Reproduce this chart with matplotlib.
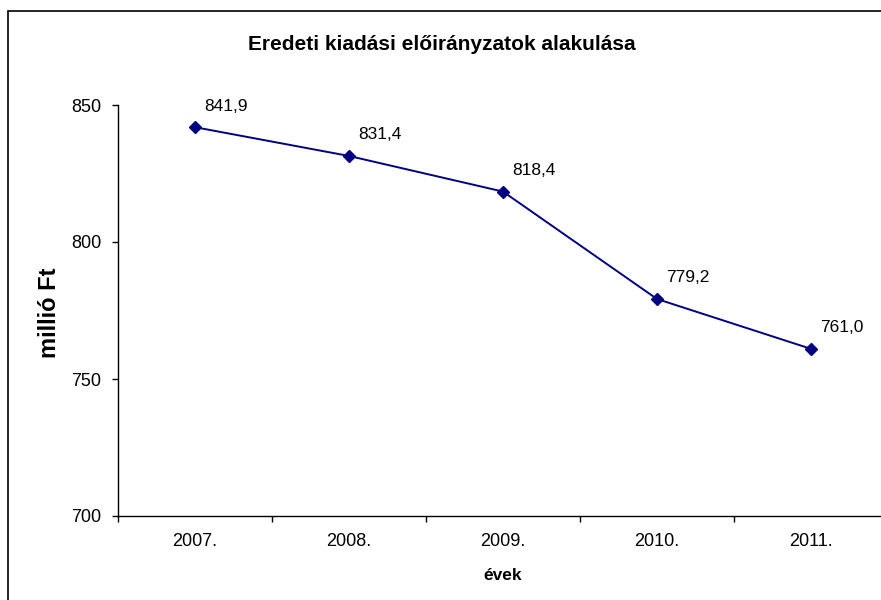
import matplotlib.pyplot as plt
from matplotlib.patches import Rectangle

# data
years = ['2007.', '2008.', '2009.', '2010.', '2011.']
values = [841.9, 831.4, 818.4, 779.2, 761.0]
labels = ['841,9', '831,4', '818,4', '779,2', '761,0']

plt.rcParams['font.family'] = ['Liberation Sans', 'DejaVu Sans']

W, H = 881, 600
fig = plt.figure(figsize=(W / 100, H / 100), dpi=100)

# chart border (cropped on the right and bottom in the original)
fig.patches.append(Rectangle((8 / W, -0.1), 1.2, 1.1 - 11 / H, transform=fig.transFigure,
                             fill=False, edgecolor='black', linewidth=1.2))

ax = fig.add_axes([118 / W, 84 / H, 770 / W, 411 / H])
x = list(range(len(years)))
ax.plot(x, values, color='#000080', linewidth=1.4, marker='D', markersize=6.5,
        markerfacecolor='#000080', markeredgecolor='#000080')
for xi, v, lab in zip(x, values, labels):
    ax.annotate(lab, (xi, v), xytext=(9, 21), textcoords='offset pixels',
                ha='left', va='center', fontsize=12.5)

ax.set_xlim(-0.5, len(years) - 0.5)
ax.set_ylim(700, 850)
ax.set_yticks([700, 750, 800, 850])
ax.set_yticklabels(['700', '750', '800', '850'], fontsize=13)

# category boundaries as major ticks, labels on minor ticks at centres
ax.set_xticks([i - 0.5 for i in range(len(years) + 1)])
ax.set_xticklabels([])
ax.set_xticks(x, minor=True)
ax.set_xticklabels(years, minor=True, fontsize=13)
ax.tick_params(axis='x', which='major', length=4, width=1)
ax.tick_params(axis='x', which='minor', length=0, pad=12)
ax.tick_params(axis='y', length=4, width=1, pad=8)

for side in ['top', 'right']:
    ax.spines[side].set_visible(False)
for side in ['left', 'bottom']:
    ax.spines[side].set_linewidth(1)

fig.text(49 / W, 1 - 313 / H, 'millió Ft', fontsize=17, fontweight='bold',
         rotation=90, ha='center', va='center')
fig.text(503 / W, 1 - 576 / H, 'évek', fontsize=12.5, fontweight='bold',
         ha='center', va='center')
fig.text(442 / W, 1 - 44 / H, 'Eredeti kiadási előirányzatok alakulása',
         fontsize=15, fontweight='bold', ha='center', va='center')

fig.savefig('out.png', dpi=100)
